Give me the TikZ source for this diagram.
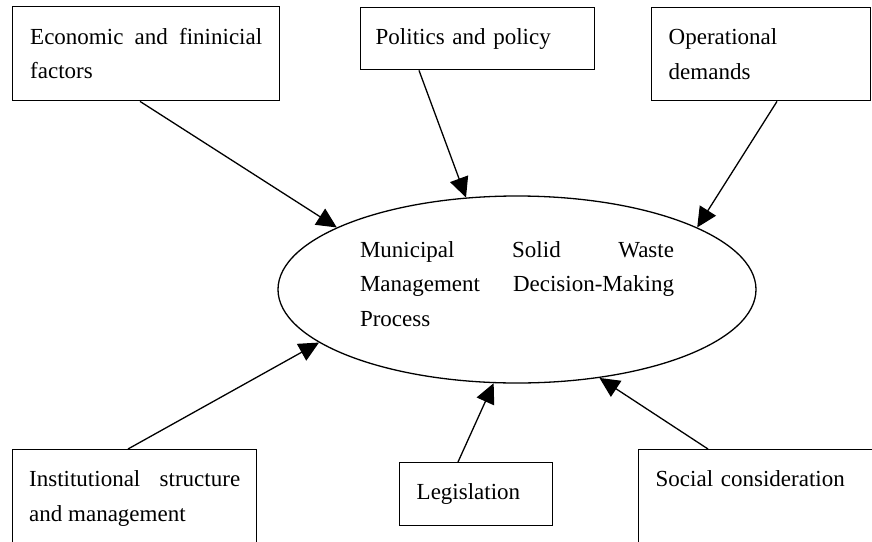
\documentclass[tikz,border=0pt]{standalone}
\usepackage{fontspec}
\setmainfont{Liberation Serif}
\usetikzlibrary{shapes,arrows.meta,calc}

\begin{document}
\begin{tikzpicture}[
  x=1pt, y=-1pt,
  font=\fontsize{23}{34.5}\selectfont,
  factor/.style={draw, rectangle, line width=1.4pt, anchor=north west, inner ysep=0pt}, % boxes are plain rectangles
  process/.style={draw, ellipse, line width=1.3pt, inner sep=0pt, align=justify, text width=314pt,
    minimum width=478pt, minimum height=187pt},
  feed/.style={line width=1.3pt, -{Triangle[length=20pt,width=19pt]}}
]
  \path [use as bounding box, clip] (0,0) rectangle (872,541);

  % the process in the middle
  \node [process, text depth=80pt] (msw) at (517,289.5)
    {Municipal Solid Waste\linebreak Management Decision-Making\linebreak Process};

  % top row
  \node [factor, text width=232pt, inner xsep=17.5pt, align=justify, minimum height=94pt] (econ) at (12,6)
    {Economic and fininicial\linebreak factors};
  \node [factor, text width=204pt, inner xsep=15pt, align=left, minimum height=62pt] (politics) at (360,7)
    {Politics and policy};
  \node [factor, text width=185pt, inner xsep=17pt, align=left, minimum height=93pt] (ops) at (651,7)
    {Operational\\demands};

  % bottom row
  \node [factor, text width=211pt, inner xsep=16.5pt, align=justify, minimum height=98pt] (inst) at (12,449)
    {Institutional structure\linebreak and management};
  \node [factor, text width=119pt, inner xsep=17pt, align=left, minimum height=63pt] (legis) at (399,462)
    {Legislation};
  \node [factor, text width=230pt, inner xsep=17pt, inner ysep=21pt, align=left, text height=16pt, text depth=100pt] (social) at (638,449)
    {Social consideration};

  \draw [feed] ($(econ.south west)+(128,0)$) -- (msw.161);
  \draw [feed] ($(politics.south west)+(59,0)$) -- (msw.119);
  \draw [feed] ($(ops.south west)+(126,0)$) -- (msw.19);
  \draw [feed] ($(inst.north west)+(116,0)$) -- (msw.195);
  \draw [feed] ($(legis.north west)+(59,0)$) -- (msw.256);
  \draw [feed] ($(social.north west)+(70,0)$) -- (msw.313);

\end{tikzpicture}
\end{document}
